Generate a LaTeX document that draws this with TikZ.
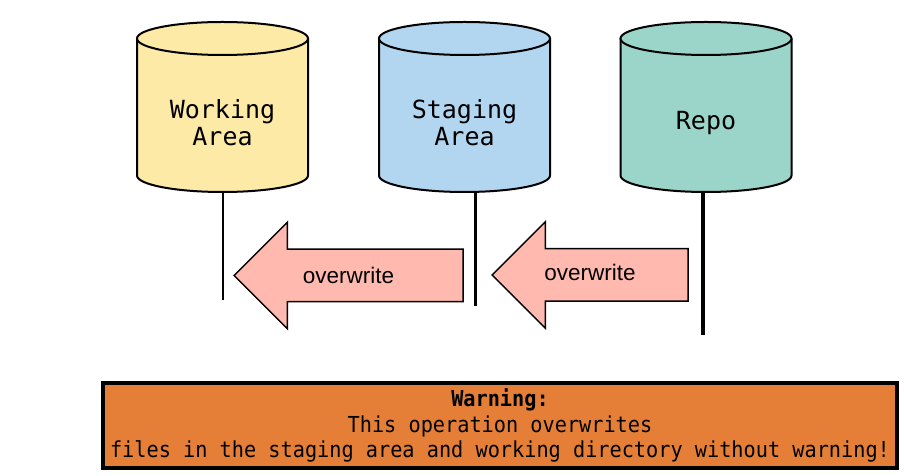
\documentclass[tikz,border=0pt]{standalone}
\usepackage{fontspec}
\usepackage{xcolor}
\usetikzlibrary{shapes.arrows,calc}
\newfontfamily\dbfont{DejaVu Sans Mono}
\newfontfamily\warnfont[FakeStretch=0.92]{DejaVu Sans Mono}
\newfontfamily\arrfont{Liberation Sans}
\definecolor{WorkYellow}{HTML}{FDEAA7}
\definecolor{StageBlue}{HTML}{B3D6F0}
\definecolor{RepoTeal}{HTML}{9BD5C9}
\definecolor{ArrowPink}{HTML}{FFB9AE}
\definecolor{WarnOrange}{HTML}{E57F37}

\tikzset{
  dbline/.style={draw=black, line width=2pt},
  dblabel/.style={font=\dbfont\fontsize{25}{27}\selectfont, align=center},
  overarrow/.style={single arrow, shape border rotate=180, draw=black, line width=1.5pt,
    fill=ArrowPink, single arrow head extend=27pt, single arrow tip angle=90,
    minimum width=105pt, inner sep=0pt, text height=31pt, text depth=20pt, anchor=tip},
  arrtext/.style={font=\arrfont\fontsize{22.5}{26}\selectfont},
  warnbox/.style={rectangle, draw=black, line width=4pt, fill=WarnOrange,
    minimum width=794pt, minimum height=85pt, align=center,
    font=\warnfont\fontsize{22}{25.5}\selectfont},
}

\begin{document}
\begin{tikzpicture}[x=1pt,y=1pt]
\path[use as bounding box] (0,0) rectangle (904,476);
% timelines under the stores
\coordinate (work-base) at (223,290);
\coordinate (stage-base) at (475,290);
\coordinate (repo-base) at (703,290);
\coordinate (work-foot) at (223,176);
\coordinate (stage-foot) at (475,170);
\coordinate (repo-foot) at (703,141);
\draw[line width=1.5pt] (work-base) -- (work-foot);
\draw[line width=3pt] (stage-base) -- (stage-foot);
\draw[line width=3.5pt] (repo-base) -- (repo-foot);
% the three stores
\filldraw[dbline, fill=WorkYellow] (137,437.5) -- (137,300.5) arc (180:360:85.5 and 16.5) -- (308,437.5);
\filldraw[dbline, fill=WorkYellow] (222.5,437.5) ellipse (85.5 and 16.5);
\filldraw[dbline, fill=StageBlue] (379,437.5) -- (379,300.5) arc (180:360:85.5 and 16.5) -- (550,437.5);
\filldraw[dbline, fill=StageBlue] (464.5,437.5) ellipse (85.5 and 16.5);
\filldraw[dbline, fill=RepoTeal] (620.5,437.5) -- (620.5,300.5) arc (180:360:85.5 and 16.5) -- (791.5,437.5);
\filldraw[dbline, fill=RepoTeal] (706,437.5) ellipse (85.5 and 16.5);
\node[dblabel] (work) at (222.5,353) {Working\\Area};
\node[dblabel] (stage) at (464.5,353) {Staging\\Area};
\node[dblabel] (repo) at (706,353) {Repo};
% overwrite arrows
\node[overarrow, minimum height=229pt] (ow-stage) at (233,200.5) {};
\node[arrtext] (ow-stage-text) at ($(ow-stage.tip)!0.5!(ow-stage.tail)$) {overwrite};
\node[overarrow, minimum height=196pt] (ow-repo) at (491,201) {};
\node[arrtext] (ow-repo-text) at ($(ow-repo.tip)!0.5!(ow-repo.tail)+(0,3)$) {overwrite};
% warning
\node[warnbox] (warn) at (500,50.5) {\textbf{Warning:}\\This operation overwrites\\files in the staging area and working directory without warning!};
\end{tikzpicture}
\end{document}
